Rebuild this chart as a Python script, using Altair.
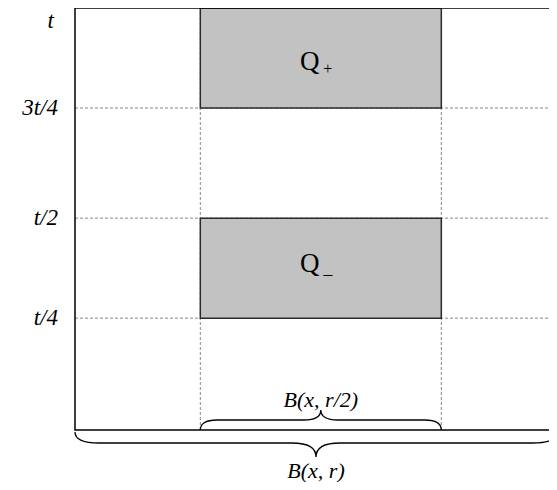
import altair as alt
import pandas as pd

# ---- data ----
level_labels = ["t/4", "t/2", "3t/4", "t"]
level_values = [0.265, 0.502, 0.763, 1.0]
grid_x = [-0.48, 0.52]                    # edges of the inner ball B(x, r/2)
rect_x0 = [-0.48, -0.48]
rect_x1 = [0.52, 0.52]
rect_y0 = [0.763, 0.265]                  # Q+ : 3t/4..t,  Q- : t/4..t/2
rect_y1 = [1.0, 0.502]
rect_sub = ["+", "−"]
q_label_y = [0.872, 0.393]
ball_labels = ["B(x, r/2)", "B(x, r)"]
ball_lo = [-0.48, -1.0]                   # extent of each ball along x (units of r)
ball_hi = [0.52, 1.0]

W, H = 474, 422          # visible plot area (the ball runs past the right edge)
XR = 482                 # pixel span of B(x, r)
FONT = "Liberation Serif"

xs = alt.Scale(domain=[-1, 1], range=[0, XR], nice=False, zero=False)
ys = alt.Scale(domain=[0, 1], nice=False, zero=False)

levels = pd.DataFrame({"label": level_labels, "v": level_values})
grid_h = levels[levels["v"] < 1.0].assign(x0=-1.0, x1=1.0)
grid_v = pd.DataFrame({"x": grid_x, "y0": 0.0, "y1": 1.0})
rects = pd.DataFrame({"x0": rect_x0, "x1": rect_x1, "y0": rect_y0, "y1": rect_y1,
                      "sub": rect_sub, "ly": q_label_y, "name": ["Q", "Q"]})
rects["cx"] = (rects["x0"] + rects["x1"]) / 2
frame = pd.DataFrame({"x0": [-1.0], "x1": [1.0], "y0": [0.0], "y1": [1.0]})
balls = pd.DataFrame({"label": ball_labels, "lo": ball_lo, "hi": ball_hi})
balls["cx"] = (balls["lo"] + balls["hi"]) / 2
balls["y"] = 0.0

h_rules = alt.Chart(grid_h).mark_rule(color="#888888", strokeWidth=1, strokeDash=[3, 2]).encode(
    x=alt.X("x0:Q", scale=xs, axis=None), x2="x1:Q",
    y=alt.Y("v:Q", scale=ys, axis=None))

v_rules = alt.Chart(grid_v).mark_rule(color="#888888", strokeWidth=1, strokeDash=[3, 2]).encode(
    x=alt.X("x:Q", scale=xs, axis=None),
    y=alt.Y("y0:Q", scale=ys, axis=None), y2="y1:Q")

boxes = alt.Chart(rects).mark_rect(fill="#c2c2c2", stroke="#2a2a2a", strokeWidth=1.5).encode(
    x=alt.X("x0:Q", scale=xs, axis=None), x2="x1:Q",
    y=alt.Y("y0:Q", scale=ys, axis=None), y2="y1:Q")

frame_l = alt.Chart(frame).mark_rect(fill=None, stroke="black", strokeWidth=1.5).encode(
    x=alt.X("x0:Q", scale=xs, axis=None), x2="x1:Q",
    y=alt.Y("y0:Q", scale=ys, axis=None), y2="y1:Q")

q_text = alt.Chart(rects).mark_text(font=FONT, fontSize=27, dx=-11, baseline="middle",
                                    align="center", color="black").encode(
    x=alt.X("cx:Q", scale=xs, axis=None), y=alt.Y("ly:Q", scale=ys, axis=None), text="name:N")

sub_plus = alt.Chart(rects.iloc[[0]]).mark_text(font=FONT, fontSize=16, dx=7, dy=7,
                                                baseline="middle", color="black").encode(
    x=alt.X("cx:Q", scale=xs, axis=None), y=alt.Y("ly:Q", scale=ys, axis=None), text="sub:N")
sub_minus = alt.Chart(rects.iloc[[1]]).mark_text(font=FONT, fontSize=20, dx=7, dy=12,
                                                 baseline="middle", color="black").encode(
    x=alt.X("cx:Q", scale=xs, axis=None), y=alt.Y("ly:Q", scale=ys, axis=None), text="sub:N")

lab_main = alt.Chart(levels[levels["v"] < 1.0]).mark_text(
    font=FONT, fontSize=23, fontStyle="italic", align="right", baseline="middle",
    color="black").encode(
    x=alt.value(-17), y=alt.Y("v:Q", scale=ys, axis=None), text="label:N")
lab_top = alt.Chart(levels[levels["v"] >= 1.0]).mark_text(
    font=FONT, fontSize=23, fontStyle="italic", align="right", baseline="middle",
    dy=13, color="black").encode(
    x=alt.value(-21), y=alt.Y("v:Q", scale=ys, axis=None), text="label:N")

# curly braces as custom symbol paths (x in [-1, 1] spans the ball's width)
outer_path = ("M -1 0.008 C -1 0.04 -0.97 0.054 -0.9 0.054 L -0.1 0.054 "
              "C -0.03 0.054 0 0.075 0 0.112 C 0 0.075 0.03 0.054 0.1 0.054 "
              "L 0.9 0.054 C 0.97 0.054 1 0.04 1 0.008")
inner_path = ("M -1 0 C -1 -0.05 -0.96 -0.083 -0.86 -0.083 L -0.14 -0.083 "
              "C -0.05 -0.083 0 -0.11 0 -0.166 C 0 -0.11 0.05 -0.083 0.14 -0.083 "
              "L 0.86 -0.083 C 0.96 -0.083 1 -0.05 1 0")
px_per_unit = XR / 2
inner_size = (px_per_unit * (ball_hi[0] - ball_lo[0])) ** 2
outer_size = (px_per_unit * (ball_hi[1] - ball_lo[1])) ** 2

brace_inner = alt.Chart(balls.iloc[[0]]).mark_point(
    shape=inner_path, size=inner_size, filled=False,
    stroke="black", strokeWidth=1.3, opacity=1).encode(
    x=alt.X("cx:Q", scale=xs, axis=None), y=alt.Y("y:Q", scale=ys, axis=None))
brace_outer = alt.Chart(balls.iloc[[1]]).mark_point(
    shape=outer_path, size=outer_size, filled=False,
    stroke="black", strokeWidth=1.3, opacity=1).encode(
    x=alt.X("cx:Q", scale=xs, axis=None), y=alt.Y("y:Q", scale=ys, axis=None))

ball_small = alt.Chart(balls.iloc[[0]]).mark_text(font=FONT, fontSize=22, fontStyle="italic",
                                                  dy=-30, baseline="middle", color="black").encode(
    x=alt.X("cx:Q", scale=xs, axis=None), y=alt.Y("y:Q", scale=ys, axis=None), text="label:N")
ball_big = alt.Chart(balls.iloc[[1]]).mark_text(font=FONT, fontSize=22, fontStyle="italic",
                                                dy=41, baseline="middle", color="black").encode(
    x=alt.X("cx:Q", scale=xs, axis=None), y=alt.Y("y:Q", scale=ys, axis=None), text="label:N")

chart = alt.layer(
    h_rules, v_rules, boxes, frame_l, brace_inner, brace_outer,
    q_text, sub_plus, sub_minus, lab_main, lab_top, ball_small, ball_big
).properties(
    width=W, height=H,
    autosize=alt.AutoSizeParams(type="none"),
    padding={"left": 67, "top": 0, "right": 0, "bottom": 52},
).configure_view(stroke=None)

chart.save("out.html", embed_options={"renderer": "svg", "actions": False})
